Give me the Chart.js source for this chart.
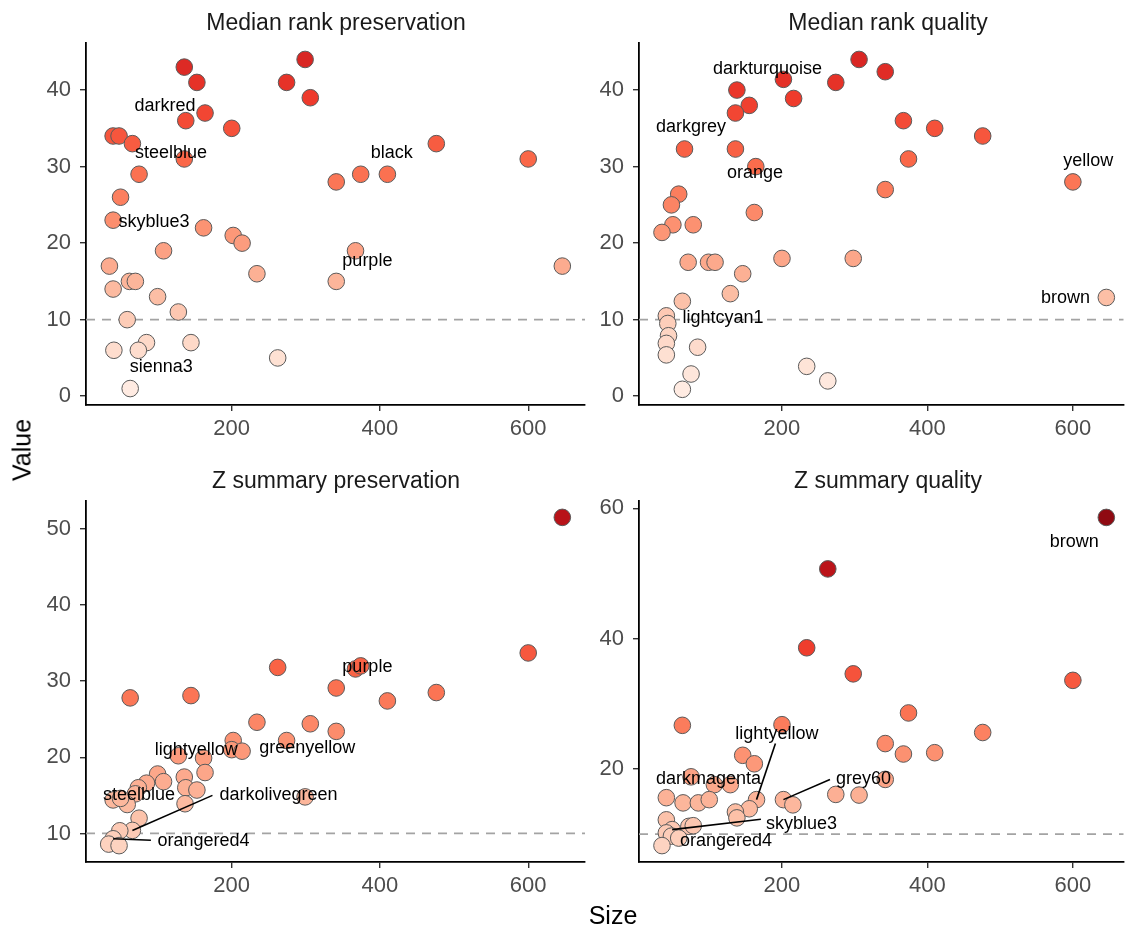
<!DOCTYPE html>
<html lang="en">
<head>
  <meta charset="UTF-8" />
  <title>Module preservation - Size vs Value</title>
  <script src="https://cdn.jsdelivr.net/npm/chart.js"></script>
  <style>
    body {
      margin: 0;
      background: #fff;
      font-family: "Liberation Sans", Arial, sans-serif;
    }
    #wrap {
      position: relative;
      width: 1133px;
      height: 931px;
      overflow: hidden;
    }
    canvas { position: absolute; }
    .ptitle {
      position: absolute;
      font-size: 23px;
      line-height: 23px;
      color: #1a1a1a;
      white-space: nowrap;
      transform: translateX(-50%);
    }
    .axtitle {
      position: absolute;
      font-size: 25px;
      line-height: 25px;
      color: #000;
      white-space: nowrap;
    }
  </style>
</head>
<body>
  <div id="wrap">
    <canvas id="c1"></canvas>
    <canvas id="c2"></canvas>
    <canvas id="c3"></canvas>
    <canvas id="c4"></canvas>
    <div class="ptitle" style="left:336px; top:11px;">Median rank preservation</div>
    <div class="ptitle" style="left:888px; top:11px;">Median rank quality</div>
    <div class="ptitle" style="left:336px; top:469px;">Z summary preservation</div>
    <div class="ptitle" style="left:888px; top:469px;">Z summary quality</div>
    <div class="axtitle" style="left:22px; top:450px; transform:translate(-50%,-50%) rotate(-90deg);">Value</div>
    <div class="axtitle" style="left:613px; top:903px; transform:translateX(-50%);">Size</div>
  </div>

  <script>
    // x ticks are shared, y ticks differ per panel
    const xTicks = [200, 400, 600];
    const yTicksRank = [0, 10, 20, 30, 40];
    const yTicksZp = [10, 20, 30, 40, 50];
    const yTicksZq = [20, 40, 60];
    const threshold = 10;

    // Median rank preservation
    const p1Size = [136, 153, 299, 274, 306, 164, 138, 200, 40, 48, 66, 476, 136, 600, 75, 341, 374, 410, 50, 40,
                    162, 202, 214, 108, 367, 35, 646, 234, 62, 70, 341, 40, 100, 128, 59, 85, 145, 41, 74, 262, 63];
    const p1Value = [43, 41, 44, 41, 39, 37, 36, 35, 34, 34, 33, 33, 31, 31, 29, 28, 29, 29, 26, 23,
                     22, 21, 20, 19, 19, 17, 17, 16, 15, 15, 15, 14, 13, 11, 10, 7, 7, 6, 6, 5, 1];

    // Median rank quality
    const p2Size = [306, 342, 202, 274, 138, 216, 155, 136, 367, 410, 476, 66, 136, 374, 164, 600, 342, 162, 58, 48,
                    50, 78, 35, 71, 99, 108, 200, 298, 146, 129, 646, 63, 41, 43, 44, 41, 41, 84, 234, 75, 63, 263];
    const p2Value = [44, 42.4, 41.4, 41, 40, 38.9, 38, 37, 36, 35, 34, 32.3, 32.3, 31, 30, 28, 27, 24, 26.4, 25,
                     22.4, 22.4, 21.4, 17.5, 17.5, 17.5, 18, 18, 16, 13.4, 12.9, 12.4, 10.5, 9.5, 7.9, 6.9, 5.4, 6.4, 3.9, 2.9, 0.9, 2];

    // Z summary preservation
    const p3Size = [646, 600, 262, 367, 374, 341, 476, 63, 145, 410, 234, 306, 341, 274, 202, 200, 214, 128, 162, 164,
                    100, 136, 108, 85, 74, 138, 153, 70, 40, 59, 50, 137, 299, 75, 66, 49, 40, 34, 48];
    const p3Value = [51.5, 33.7, 31.8, 31.6, 32, 29.1, 28.5, 27.8, 28.1, 27.4, 24.6, 24.4, 23.4, 22.2, 22.2, 21, 20.8, 20.2, 19.9, 18,
                     17.8, 17.4, 16.8, 16.6, 16, 16, 15.7, 15.2, 14.4, 13.8, 14.6, 13.9, 14.8, 12, 10.4, 10.35, 9.3, 8.6, 8.4];

    // Z summary quality
    const p4Size = [646, 263, 234, 298, 600, 374, 63, 200, 476, 342, 367, 410, 146, 162, 75, 107, 129, 342, 41, 64,
                    85, 100, 165, 202, 215, 274, 306, 155, 136, 138, 41, 72, 78, 49, 41, 48, 58, 35];
    const p4Value = [58.6, 50.7, 38.6, 34.6, 33.6, 28.6, 26.7, 26.8, 25.6, 23.9, 22.3, 22.5, 22.1, 20.8, 18.8, 17.6, 17.6, 18.4, 15.6, 14.8,
                     14.8, 15.3, 15.3, 15.3, 14.5, 16.1, 16, 13.9, 13.4, 12.5, 12.2, 11.2, 11.3, 10.7, 10.2, 9.7, 9.4, 8.25];

    // text labels (label centre in data units; "to" = index of the labelled point)
    const p1Labels = [
      { text: 'darkred', x: 110, y: 37.9 },
      { text: 'steelblue', x: 118, y: 31.8 },
      { text: 'skyblue3', x: 95, y: 22.7 },
      { text: 'black', x: 416, y: 31.8 },
      { text: 'purple', x: 383, y: 17.7 },
      { text: 'sienna3', x: 105, y: 3.75 }
    ];
    const p2Labels = [
      { text: 'darkturquoise', x: 180, y: 42.8 },
      { text: 'darkgrey', x: 75, y: 35.2 },
      { text: 'orange', x: 163, y: 29.1 },
      { text: 'yellow', x: 621, y: 30.7 },
      { text: 'brown', x: 590, y: 12.8 },
      { text: 'lightcyan1', x: 119, y: 10.25 }
    ];
    const p3Labels = [
      { text: 'purple', x: 383, y: 31.9 },
      { text: 'lightyellow', x: 152, y: 21.0 },
      { text: 'greenyellow', x: 302, y: 21.2 },
      { text: 'steelblue', x: 75, y: 15.0 },
      { text: 'darkolivegreen', x: 263, y: 15.0, from: [174, 15.0], to: 34 },
      { text: 'orangered4', x: 162, y: 9.0, from: [91, 9.1], to: 36 }
    ];
    const p4Labels = [
      { text: 'brown', x: 602, y: 54.9 },
      { text: 'lightyellow', x: 193, y: 25.4, from: [191, 23.9], to: 22 },
      { text: 'darkmagenta', x: 99, y: 18.4 },
      { text: 'grey60', x: 312, y: 18.4, from: [266, 18.4], to: 23 },
      { text: 'skyblue3', x: 227, y: 11.5, from: [171, 12.3], to: 33 },
      { text: 'orangered4', x: 123, y: 8.9 }
    ];

    // Reds palette over the value range
    const reds = ['#fff5f0', '#fee0d2', '#fcbba1', '#fc9272', '#fb6a4a', '#ef3b2c', '#cb181d', '#a50f15', '#67000d'];
    const colorMin = -3;
    const colorMax = 64;

    function hexToRgb(h) {
      return [parseInt(h.slice(1, 3), 16), parseInt(h.slice(3, 5), 16), parseInt(h.slice(5, 7), 16)];
    }
    function fillFor(v) {
      let t = Math.max(0, Math.min(1, (v - colorMin) / (colorMax - colorMin))) * (reds.length - 1);
      let i = Math.min(reds.length - 2, Math.floor(t));
      let f = t - i;
      let a = hexToRgb(reds[i]), b = hexToRgb(reds[i + 1]);
      let c = a.map((ch, k) => Math.round(ch + (b[k] - ch) * f));
      return 'rgb(' + c.join(',') + ')';
    }

    const labelPlugin = {
      id: 'textLabels',
      afterDatasetsDraw(chart, args, opts) {
        const ctx = chart.ctx;
        const xs = chart.scales.x, ys = chart.scales.y;
        const pts = chart.data.datasets[1].data;
        ctx.save();
        ctx.strokeStyle = '#000';
        ctx.lineWidth = 1.6;
        opts.items.forEach(l => {
          if (l.from) {
            const p = pts[l.to];
            ctx.beginPath();
            ctx.moveTo(xs.getPixelForValue(l.from[0]), ys.getPixelForValue(l.from[1]));
            ctx.lineTo(xs.getPixelForValue(p.x), ys.getPixelForValue(p.y));
            ctx.stroke();
          }
        });
        ctx.font = '18px "Liberation Sans", Arial, sans-serif';
        ctx.fillStyle = '#000';
        ctx.textAlign = 'center';
        ctx.textBaseline = 'middle';
        opts.items.forEach(l => {
          ctx.fillText(l.text, xs.getPixelForValue(l.x), ys.getPixelForValue(l.y));
        });
        ctx.restore();
      }
    };

    function makePanel(id, canvasBox, area, sizes, values, yRange, yTicks, xMax, labels) {
      const el = document.getElementById(id);
      el.width = canvasBox.w;
      el.height = canvasBox.h;
      el.style.left = canvasBox.left + 'px';
      el.style.top = canvasBox.top + 'px';

      const points = sizes.map((s, i) => ({ x: s, y: values[i] }));
      const xMin = 3.4;

      const axisCommon = {
        border: { display: true, color: '#000', width: 1.8 },
        grid: { display: true, drawOnChartArea: false, drawTicks: true, tickLength: 6, color: '#333', lineWidth: 1.4 },
        ticks: { color: '#4d4d4d', font: { size: 22, family: '"Liberation Sans", Arial, sans-serif' }, padding: 5 }
      };

      return new Chart(el.getContext('2d'), {
        data: {
          datasets: [
            {
              type: 'line',
              data: [{ x: xMin, y: threshold }, { x: xMax, y: threshold }],
              borderColor: '#a3a3a3',
              borderWidth: 1.8,
              borderDash: [9, 7],
              pointRadius: 0,
              order: 2
            },
            {
              type: 'scatter',
              data: points,
              backgroundColor: values.map(fillFor),
              borderColor: '#5a5a5a',
              borderWidth: 1,
              pointRadius: 8.3,
              pointHoverRadius: 8.3,
              clip: false,
              order: 1
            }
          ]
        },
        options: {
          responsive: false,
          animation: false,
          devicePixelRatio: 1,
          layout: {
            padding: {
              top: area.top - canvasBox.top,
              right: canvasBox.left + canvasBox.w - area.right,
              left: 0,
              bottom: 0
            }
          },
          plugins: {
            legend: { display: false },
            tooltip: { enabled: false },
            textLabels: { items: labels }
          },
          scales: {
            x: Object.assign({}, axisCommon, {
              type: 'linear',
              min: xMin,
              max: xMax,
              afterBuildTicks: s => { s.ticks = xTicks.map(v => ({ value: v })); },
              afterFit: s => { s.height = canvasBox.top + canvasBox.h - area.bottom; }
            }),
            y: Object.assign({}, axisCommon, {
              type: 'linear',
              min: yRange[0],
              max: yRange[1],
              ticks: Object.assign({}, axisCommon.ticks, { padding: 9 }),
              afterBuildTicks: s => { s.ticks = yTicks.map(v => ({ value: v })); },
              afterFit: s => { s.width = area.left - canvasBox.left; }
            })
          }
        },
        plugins: [labelPlugin]
      });
    }

    makePanel('c1', { left: 0, top: 0, w: 600, h: 450 }, { left: 86, top: 43, right: 585, bottom: 405 },
      p1Size, p1Value, [-1.15, 46.15], yTicksRank, 676.6, p1Labels);
    makePanel('c2', { left: 560, top: 0, w: 573, h: 450 }, { left: 639, top: 43, right: 1133, bottom: 405 },
      p2Size, p2Value, [-1.15, 46.15], yTicksRank, 669.9, p2Labels);
    makePanel('c3', { left: 0, top: 455, w: 600, h: 476 }, { left: 86, top: 501, right: 585, bottom: 862 },
      p3Size, p3Value, [6.25, 53.65], yTicksZp, 676.6, p3Labels);
    makePanel('c4', { left: 560, top: 455, w: 573, h: 476 }, { left: 639, top: 501, right: 1133, bottom: 862 },
      p4Size, p4Value, [5.73, 61.12], yTicksZq, 669.9, p4Labels);
  </script>
</body>
</html>
